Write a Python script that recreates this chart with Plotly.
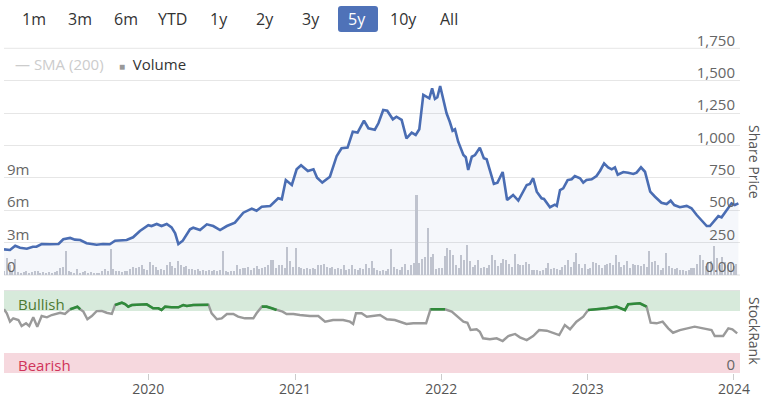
import plotly.graph_objects as go
import pandas as pd

W, H = 764, 398

# ---------------- data ----------------
price_dates = [
    "2019-01-06", "2019-01-21", "2019-02-03", "2019-02-15", "2019-03-04", "2019-03-19", "2019-03-28",
    "2019-04-10", "2019-05-01", "2019-05-22", "2019-06-03", "2019-06-20", "2019-07-02", "2019-07-15",
    "2019-07-31", "2019-08-25", "2019-09-10", "2019-09-27", "2019-10-10", "2019-11-08", "2019-11-24",
    "2019-12-11", "2020-01-01", "2020-01-09", "2020-01-22", "2020-02-03", "2020-02-16", "2020-02-28",
    "2020-03-08", "2020-03-16", "2020-03-27", "2020-04-14", "2020-04-22", "2020-05-09", "2020-05-26",
    "2020-06-11", "2020-06-28", "2020-07-15", "2020-08-04", "2020-08-25", "2020-09-15", "2020-09-27",
    "2020-10-10", "2020-10-31", "2020-11-20", "2020-11-29", "2020-12-09", "2020-12-24", "2021-01-05",
    "2021-01-16", "2021-02-02", "2021-02-16", "2021-02-25", "2021-03-10", "2021-03-29", "2021-04-15",
    "2021-04-27", "2021-05-12", "2021-05-25", "2021-06-06", "2021-06-22", "2021-07-03", "2021-07-19",
    "2021-07-28", "2021-08-09", "2021-08-19", "2021-09-02", "2021-09-11", "2021-09-24", "2021-10-06",
    "2021-10-19", "2021-10-29", "2021-11-07", "2021-11-17", "2021-12-02", "2021-12-09", "2021-12-16",
    "2021-12-22", "2021-12-29", "2022-01-14", "2022-01-22", "2022-01-29", "2022-02-04", "2022-02-12",
    "2022-02-25", "2022-03-03", "2022-03-09", "2022-03-18", "2022-03-26", "2022-04-07", "2022-04-17",
    "2022-04-24", "2022-05-12", "2022-05-21", "2022-06-03", "2022-06-14", "2022-06-29", "2022-07-12",
    "2022-08-02", "2022-08-10", "2022-08-18", "2022-08-27", "2022-09-08", "2022-09-14", "2022-09-29",
    "2022-10-11", "2022-10-16", "2022-10-24", "2022-11-01", "2022-11-12", "2022-11-22", "2022-11-30",
    "2022-12-13", "2022-12-21", "2022-12-29", "2023-01-11", "2023-01-23", "2023-02-01", "2023-02-11",
    "2023-02-21", "2023-03-02", "2023-03-10", "2023-03-17", "2023-03-31", "2023-04-12", "2023-04-25",
    "2023-05-03", "2023-05-14", "2023-05-24", "2023-06-06", "2023-06-18", "2023-07-04", "2023-07-17",
    "2023-07-27", "2023-08-05", "2023-08-19", "2023-09-05", "2023-09-17", "2023-09-30", "2023-10-12",
    "2023-10-25", "2023-11-02", "2023-11-15", "2023-11-23", "2023-12-01", "2023-12-14", "2023-12-26",
    "2024-01-03", "2024-01-12",
]
share_price = [
    198, 193, 226, 211, 203, 218, 218,
    239, 237, 239, 276, 286, 273, 270,
    245, 234, 239, 237, 265, 270, 291,
    340, 384, 378, 394, 378, 394, 368,
    322, 239, 265, 353, 365, 347, 391,
    378, 347, 378, 404, 481, 512, 496,
    527, 533, 592, 584, 733, 695, 816,
    847, 803, 816, 751, 713, 759, 919,
    978, 983, 1106, 1099, 1191, 1133, 1122,
    1171, 1274, 1268, 1202, 1222, 1197, 1055,
    1099, 1081, 1125, 1390, 1364, 1441, 1359,
    1372, 1459, 1248, 1183, 1114, 1125, 1029,
    926, 909, 811, 913, 926, 983, 901,
    893, 703, 713, 795, 579, 618, 574,
    695, 703, 747, 643, 592, 587, 523,
    543, 533, 656, 669, 733, 739, 764,
    747, 713, 733, 739, 764, 805, 862,
    831, 816, 831, 774, 795, 790, 780,
    790, 831, 797, 643, 604, 558, 548,
    574, 540, 523, 533, 515, 463, 425,
    378, 378, 425, 455, 445, 502, 553,
    540, 553,
]

# weekly volume, millions (first week 2019-01-06)
volume_start = "2019-01-06"
volume_m = [
    0.3, 1.56, 0.9, 0.3, 1.5, 0.25, 0.2, 0.25, 0.3, 0.2,
    0.25, 0.3, 0.3, 0.2, 0.25, 0.2, 0.26, 0.2, 0.25, 0.3,
    0.6, 0.7, 2.18, 0.3, 0.25, 0.2, 0.5, 0.2, 0.25, 0.3,
    0.2, 0.25, 0.2, 0.15, 0.2, 0.3, 0.55, 0.3, 2.36, 0.55,
    0.3, 0.3, 0.25, 0.35, 0.3, 0.5, 0.7, 0.6, 0.7, 0.9,
    0.5, 0.4, 1.19, 0.88, 0.73, 0.45, 0.57, 0.4, 0.94, 1.19,
    0.85, 0.6, 1.25, 0.94, 0.73, 0.85, 0.5, 0.57, 0.4, 0.57,
    0.3, 0.42, 0.35, 0.42, 0.3, 0.42, 0.35, 0.42, 2.18, 0.3,
    0.25, 0.35, 0.3, 0.94, 0.5, 0.6, 0.6, 0.73, 0.4, 0.6,
    0.85, 0.5, 0.6, 0.7, 0.94, 1.34, 1.34, 0.6, 0.88, 0.88,
    0.6, 2.58, 1.25, 0.7, 2.49, 0.73, 0.6, 0.5, 0.6, 0.55,
    0.6, 0.5, 0.94, 0.94, 1.03, 0.73, 0.6, 0.73, 0.5, 0.6,
    0.5, 0.94, 0.4, 0.57, 0.88, 0.5, 0.4, 0.6, 0.5, 1.03,
    0.6, 1.28, 0.66, 0.42, 0.35, 0.42, 0.35, 0.5, 2.42, 0.73,
    0.5, 0.42, 0.73, 0.97, 0.42, 0.89, 1.04, 7.36, 1.04, 1.5,
    1.65, 4.37, 1.65, 1.96, 0.5, 0.6, 0.66, 1.7, 2.5, 2.25,
    1.8, 0.89, 0.6, 1.8, 1.34, 2.73, 1.27, 0.75, 0.9, 1.34,
    0.66, 0.7, 0.66, 0.89, 1.8, 1.34, 0.8, 1.04, 1.5, 1.34,
    0.97, 0.7, 1.96, 0.97, 0.89, 0.89, 1.19, 0.97, 0.42, 0.4,
    0.42, 0.35, 0.42, 0.6, 1.04, 0.5, 0.66, 0.5, 0.45, 0.73,
    0.89, 1.34, 0.7, 1.19, 2.0, 0.97, 0.6, 0.97, 0.5, 0.6,
    1.19, 1.04, 0.89, 0.6, 0.89, 0.97, 1.04, 0.89, 1.8, 1.19,
    0.7, 0.89, 1.27, 0.6, 0.97, 0.89, 0.89, 0.8, 0.97, 0.7,
    2.17, 1.19, 1.27, 0.89, 0.45, 0.6, 2.0, 0.8, 0.66, 0.5,
    0.66, 0.4, 0.42, 0.35, 0.42, 0.66, 0.6, 0.97, 1.8, 1.34,
    0.8, 1.19, 1.27, 2.64, 1.58, 0.89, 1.65, 1.19, 0.9, 1.1,
    0.8, 1.0,
]

rank_dates = [
    "2019-01-06", "2019-01-13", "2019-01-21", "2019-01-29", "2019-02-11", "2019-02-19", "2019-03-02",
    "2019-03-10", "2019-03-20", "2019-03-30", "2019-04-10", "2019-04-23", "2019-05-05", "2019-05-18",
    "2019-05-26", "2019-06-07", "2019-06-20", "2019-06-28", "2019-07-08", "2019-07-15", "2019-07-23",
    "2019-08-02", "2019-08-13", "2019-08-25", "2019-09-07", "2019-09-19", "2019-10-02", "2019-10-10",
    "2019-10-27", "2019-11-04", "2019-11-12", "2019-11-21", "2019-12-11", "2019-12-28", "2020-01-13",
    "2020-01-26", "2020-02-03", "2020-02-12", "2020-02-28", "2020-03-16", "2020-03-28", "2020-04-06",
    "2020-04-22", "2020-05-09", "2020-05-30", "2020-06-07", "2020-06-20", "2020-07-02", "2020-07-15",
    "2020-07-31", "2020-08-12", "2020-08-29", "2020-09-19", "2020-09-27", "2020-10-10", "2020-10-22",
    "2020-11-04", "2020-11-16", "2020-12-01", "2020-12-11", "2020-12-28", "2021-01-13", "2021-02-07",
    "2021-02-28", "2021-03-17", "2021-04-06", "2021-05-01", "2021-05-18", "2021-05-26", "2021-06-02",
    "2021-06-16", "2021-06-29", "2021-07-15", "2021-08-01", "2021-08-18", "2021-09-07", "2021-10-06",
    "2021-10-23", "2021-11-24", "2021-12-05", "2021-12-20", "2022-01-10", "2022-01-27", "2022-02-12",
    "2022-02-25", "2022-03-07", "2022-03-15", "2022-03-30", "2022-04-07", "2022-04-15", "2022-05-02",
    "2022-05-19", "2022-06-03", "2022-06-17", "2022-07-04", "2022-07-16", "2022-08-02", "2022-08-18",
    "2022-09-02", "2022-09-21", "2022-10-07", "2022-10-22", "2022-11-05", "2022-11-18", "2022-12-04",
    "2022-12-21", "2023-01-02", "2023-01-23", "2023-02-17", "2023-03-14", "2023-04-04", "2023-04-12",
    "2023-05-11", "2023-05-28", "2023-06-07", "2023-06-22", "2023-07-07", "2023-07-21", "2023-08-02",
    "2023-08-19", "2023-09-09", "2023-09-25", "2023-10-16", "2023-11-06", "2023-11-14", "2023-12-05",
    "2023-12-18", "2023-12-28", "2024-01-09",
]
stock_rank = [
    77.7, 72.8, 62.6, 66.7, 64.6, 57.3, 60.6,
    57.3, 67.9, 56.5, 69.5, 67.9, 70.7, 72.8,
    73.5, 72.0, 77.7, 78.9, 80.9, 77.7, 74.8,
    65.5, 69.5, 75.5, 75.8, 73.5, 72.0, 82.9,
    85.7, 84.1, 80.9, 82.9, 82.9, 83.8, 78.9,
    78.9, 76.8, 80.9, 80.1, 80.1, 82.9, 81.7,
    82.9, 83.3, 83.3, 72.8, 65.5, 66.7, 72.0,
    72.0, 68.7, 66.7, 66.7, 72.8, 80.9, 80.9,
    78.9, 76.8, 74.8, 72.0, 72.0, 70.7, 69.5,
    69.5, 62.6, 64.6, 64.6, 62.6, 59.8, 72.8,
    72.8, 68.7, 69.5, 70.7, 65.5, 64.6, 59.8,
    60.6, 60.6, 77.7, 77.7, 77.7, 74.8, 68.7,
    62.6, 61.3, 52.4, 53.3, 50.4, 42.3, 41.1,
    42.3, 39.0, 45.1, 47.6, 43.5, 40.2, 45.1,
    52.4, 51.6, 48.4, 46.3, 58.5, 53.3, 62.6,
    68.7, 76.8, 77.7, 78.9, 80.9, 76.8, 83.8,
    85.0, 80.9, 61.3, 60.6, 62.6, 54.5, 49.1,
    52.4, 55.2, 56.5, 54.5, 52.4, 45.1, 45.1,
    54.5, 53.3, 48.4,
]
bullish_level = 76.5

price_ticks = [0, 250, 500, 750, 1000, 1250, 1500, 1750]
price_tick_text = ["0.00", "250", "500", "750", "1,000", "1,250", "1,500", "1,750"]
volume_ticks = [0, 3e6, 6e6, 9e6]
volume_tick_text = ["0", "3m", "6m", "9m"]
year_ticks = ["2020-01-01", "2021-01-01", "2022-01-01", "2023-01-01", "2024-01-01"]
year_tick_text = ["2020", "2021", "2022", "2023", "2024"]
range_buttons = ["1m", "3m", "6m", "YTD", "1y", "2y", "3y", "5y", "10y", "All"]
active_button = "5y"

# ---------------- layout helpers ----------------
def px(x):
    return x / W

def py(y):
    return 1 - y / H

X0, X1 = 4, 740
FONT = "Open Sans"
LABEL_SHIFT = -8

vol_dates = pd.date_range(volume_start, periods=len(volume_m), freq="7D")
volume = [v * 1e6 for v in volume_m]
green_rank = [v if v >= bullish_level else None for v in stock_rank]

fig = go.Figure()
fig.add_trace(go.Bar(
    x=vol_dates, y=volume, yaxis="y", marker=dict(color="#c6c8d0", line=dict(width=0)),
    width=5 * 86400000, hoverinfo="skip", showlegend=False))
fig.add_trace(go.Scatter(
    x=price_dates, y=share_price, yaxis="y2", mode="lines",
    line=dict(color="#4a6db3", width=2.6), fill="tozeroy",
    fillcolor="rgba(74,109,179,0.055)", showlegend=False))
fig.add_trace(go.Scatter(
    x=rank_dates, y=stock_rank, yaxis="y3", mode="lines",
    line=dict(color="#9a9a9a", width=2.4), showlegend=False))
fig.add_trace(go.Scatter(
    x=rank_dates, y=green_rank, yaxis="y3", mode="lines", connectgaps=False,
    line=dict(color="#2f8a3a", width=2.6), showlegend=False))

top_dom = [py(275), py(48.3)]
bot_dom = [py(373), py(291)]

fig.update_layout(
    width=W, height=H, margin=dict(l=0, r=0, t=0, b=0, autoexpand=False),
    paper_bgcolor="white", plot_bgcolor="white",
    font=dict(family=FONT, color="#555"),
    bargap=0,
    xaxis=dict(
        domain=[px(X0), px(X1)], anchor="y3", type="date",
        range=["2019-01-06", "2024-01-16"],
        tickvals=year_ticks, ticktext=year_tick_text,
        ticks="outside", ticklen=6, tickcolor="#cccccc", tickwidth=1,
        ticklabelstandoff=-3, ticklabeloverflow="allow",
        showgrid=False, showline=False, zeroline=False, automargin=False,
        tickfont=dict(size=14, color="#555"),
    ),
    yaxis=dict(
        domain=top_dom, range=[0, 21e6], side="left", anchor="x",
        tickvals=volume_ticks, ticktext=volume_tick_text,
        ticklabelposition="inside", ticklabelshift=LABEL_SHIFT, ticklabelstandoff=0,
        ticklabeloverflow="allow",
        showgrid=False, zeroline=False, showline=False, automargin=False,
        tickfont=dict(size=15, color="#666"),
    ),
    yaxis2=dict(
        domain=top_dom, range=[0, 1750], side="right", overlaying="y", anchor="x",
        tickvals=price_ticks, ticktext=price_tick_text,
        ticklabelposition="inside", ticklabelshift=LABEL_SHIFT, ticklabelstandoff=2,
        ticklabeloverflow="allow",
        showgrid=True, gridcolor="#e6e6e6", gridwidth=1,
        zeroline=False, showline=False, automargin=False,
        tickfont=dict(size=15, color="#666"),
    ),
    yaxis3=dict(
        domain=bot_dom, range=[0, 100], side="right", anchor="x",
        tickvals=[0], ticktext=["0"],
        ticklabelposition="inside", ticklabelshift=LABEL_SHIFT, ticklabelstandoff=2,
        ticklabeloverflow="allow",
        showgrid=False, zeroline=False, showline=False, automargin=False,
        tickfont=dict(size=15, color="#666"),
    ),
)

shapes = [
    dict(type="rect", xref="paper", yref="y3", x0=px(X0), x1=px(X1), y0=75.6, y1=100,
         fillcolor="#d7eadb", line=dict(width=0), layer="below"),
    dict(type="rect", xref="paper", yref="y3", x0=px(X0), x1=px(X1), y0=0, y1=24.4,
         fillcolor="#f6d8de", line=dict(width=0), layer="below"),
    dict(type="line", xref="paper", yref="paper", x0=px(X0), x1=px(X1), y0=py(290.5), y1=py(290.5),
         line=dict(color="#e2e2e2", width=1)),
    dict(type="line", xref="paper", yref="paper", x0=px(X0), x1=px(X1), y0=py(48.3), y1=py(48.3),
         line=dict(color="#e6e6e6", width=1), layer="below"),
    dict(type="line", xref="paper", yref="paper", x0=px(X0), x1=px(X1), y0=py(275), y1=py(275),
         line=dict(color="#e0e0e0", width=1), layer="below"),
]

# range selector look-alike
btn_centers = [34, 80, 126, 172, 219, 265, 311, 357, 403, 449]
annotations = []
for label, cx in zip(range_buttons, btn_centers):
    active = label == active_button
    if active:
        r = 3
        shapes.append(dict(
            type="path", xref="paper", yref="paper",
            path=(f"M {px(338 + r)},{py(6)} L {px(378 - r)},{py(6)} Q {px(378)},{py(6)} {px(378)},{py(6 + r)} "
                  f"L {px(378)},{py(32 - r)} Q {px(378)},{py(32)} {px(378 - r)},{py(32)} "
                  f"L {px(338 + r)},{py(32)} Q {px(338)},{py(32)} {px(338)},{py(32 - r)} "
                  f"L {px(338)},{py(6 + r)} Q {px(338)},{py(6)} {px(338 + r)},{py(6)} Z"),
            fillcolor="#4f72b8", line=dict(width=0)))
    annotations.append(dict(
        text=label, x=px(cx), y=py(19), xref="paper", yref="paper",
        xanchor="center", yanchor="middle", showarrow=False,
        font=dict(size=16, color="white" if active else "#333", family=FONT)))

# legend look-alike
annotations += [
    dict(text="— SMA (200)", x=px(13), y=py(64), xref="paper", yref="paper",
         xanchor="left", yanchor="middle", showarrow=False,
         font=dict(size=15, color="#cccccc", family=FONT)),
    dict(text='<span style="font-size:10px;color:#999999">■</span>  Volume',
         x=px(117), y=py(64), xref="paper", yref="paper",
         xanchor="left", yanchor="middle", showarrow=False,
         font=dict(size=15, color="#333333", family=FONT)),
    dict(text="Share Price", x=px(755), y=py(162), xref="paper", yref="paper",
         xanchor="center", yanchor="middle", textangle=90, showarrow=False,
         font=dict(size=14, color="#555", family=FONT)),
    dict(text="StockRank", x=px(755), y=py(331), xref="paper", yref="paper",
         xanchor="center", yanchor="middle", textangle=90, showarrow=False,
         font=dict(size=14, color="#555", family=FONT)),
    dict(text="Bullish", x=px(16), y=py(304), xref="paper", yref="paper",
         xanchor="left", yanchor="middle", showarrow=False,
         font=dict(size=15, color="#4d7a32", family=FONT)),
    dict(text="Bearish", x=px(16), y=py(365), xref="paper", yref="paper",
         xanchor="left", yanchor="middle", showarrow=False,
         font=dict(size=15, color="#d0345a", family=FONT)),
]

fig.update_layout(shapes=shapes, annotations=annotations)
fig.write_html(
    "out.html",
    config={"displayModeBar": False},
    post_script="document.body.style.margin='0';document.body.style.overflow='hidden';",
)
